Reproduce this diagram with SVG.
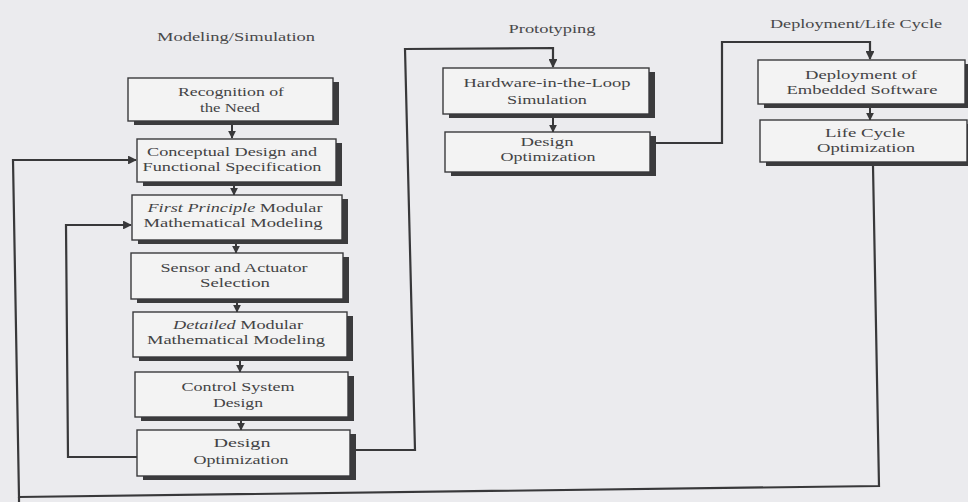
<svg xmlns="http://www.w3.org/2000/svg" width="968" height="502" viewBox="0 0 968 502">
<defs>
<style>
.bg{fill:#ebebee}
.sh{fill:#3b3b3d}
.bx{fill:#f3f3f3;stroke:#3a3a3c;stroke-width:1.4}
.t{font-family:"Liberation Serif","Times New Roman",serif;font-size:12.5px;fill:#434345;text-anchor:middle}
.h{font-family:"Liberation Serif","Times New Roman",serif;font-size:12px;fill:#48484a;text-anchor:middle}
.ln{fill:none;stroke:#38383a;stroke-width:2.2;stroke-linejoin:miter}
.st{fill:none;stroke:#38383a;stroke-width:2}
</style>
<marker id="ah" viewBox="0 0 10 10" refX="9" refY="5" markerWidth="4" markerHeight="4" orient="auto" markerUnits="strokeWidth">
<path d="M0,0 L10,5 L0,10 z" fill="#38383a"/>
</marker>
</defs>
<rect class="bg" x="0" y="0" width="968" height="502"/>

<g id="headings">
<text class="h" x="236" y="41" textLength="158" lengthAdjust="spacingAndGlyphs">Modeling/Simulation</text>
<text class="h" x="552" y="33" textLength="87" lengthAdjust="spacingAndGlyphs">Prototyping</text>
<text class="h" x="856" y="28" textLength="172" lengthAdjust="spacingAndGlyphs">Deployment/Life Cycle</text>
</g>

<g id="connectors">
<line class="st" x1="232" y1="123" x2="232" y2="138" marker-end="url(#ah)"/>
<line class="st" x1="234" y1="185" x2="234" y2="195" marker-end="url(#ah)"/>
<line class="st" x1="236" y1="243" x2="236" y2="253" marker-end="url(#ah)"/>
<line class="st" x1="237" y1="303" x2="237" y2="312" marker-end="url(#ah)"/>
<line class="st" x1="240" y1="360" x2="240" y2="372" marker-end="url(#ah)"/>
<line class="st" x1="241" y1="420" x2="241" y2="430" marker-end="url(#ah)"/>
<line class="st" x1="553" y1="118" x2="553" y2="132" marker-end="url(#ah)"/>
<line class="st" x1="870" y1="108" x2="870" y2="120" marker-end="url(#ah)"/>
<polyline class="ln" points="137,457 68,457 66,225 131,225" marker-end="url(#ah)"/>
<polyline class="ln" points="873,166 879,486 19,497 13,160 136,160" marker-end="url(#ah)"/>
<line class="ln" x1="19" y1="497" x2="19" y2="502"/>
<polyline class="ln" points="352,450 415,450 405,49 553,48 553,67" marker-end="url(#ah)"/>
<polyline class="ln" points="655,143 722,143 722,42 870,42 870,59" marker-end="url(#ah)"/>
</g>

<g id="n1">
<rect class="sh" x="134" y="82" width="205" height="43"/>
<rect class="bx" x="128" y="78" width="205" height="43"/>
<text class="t" x="231" y="96" textLength="106" lengthAdjust="spacingAndGlyphs">Recognition of</text>
<text class="t" x="230" y="112" textLength="60" lengthAdjust="spacingAndGlyphs">the Need</text>
</g>
<g id="n2">
<rect class="sh" x="143" y="143" width="199" height="43"/>
<rect class="bx" x="137" y="139" width="199" height="43"/>
<text class="t" x="232" y="156" textLength="170" lengthAdjust="spacingAndGlyphs">Conceptual Design and</text>
<text class="t" x="232" y="171" textLength="179" lengthAdjust="spacingAndGlyphs">Functional Specification</text>
</g>
<g id="n3">
<rect class="sh" x="138" y="199" width="210" height="45"/>
<rect class="bx" x="132" y="195" width="210" height="45"/>
<text class="t" x="235" y="212" textLength="175" lengthAdjust="spacingAndGlyphs"><tspan font-style="italic">First Principle</tspan> Modular</text>
<text class="t" x="233" y="227" textLength="179" lengthAdjust="spacingAndGlyphs">Mathematical Modeling</text>
</g>
<g id="n4">
<rect class="sh" x="137" y="257" width="212" height="46"/>
<rect class="bx" x="131" y="253" width="212" height="46"/>
<text class="t" x="234" y="272" textLength="147" lengthAdjust="spacingAndGlyphs">Sensor and Actuator</text>
<text class="t" x="235" y="287" textLength="70" lengthAdjust="spacingAndGlyphs">Selection</text>
</g>
<g id="n5">
<rect class="sh" x="139" y="316" width="214" height="45"/>
<rect class="bx" x="133" y="312" width="214" height="45"/>
<text class="t" x="238" y="329" textLength="130" lengthAdjust="spacingAndGlyphs"><tspan font-style="italic">Detailed</tspan> Modular</text>
<text class="t" x="236" y="344" textLength="178" lengthAdjust="spacingAndGlyphs">Mathematical Modeling</text>
</g>
<g id="n6">
<rect class="sh" x="141" y="376" width="213" height="45"/>
<rect class="bx" x="135" y="372" width="213" height="45"/>
<text class="t" x="238" y="391" textLength="113" lengthAdjust="spacingAndGlyphs">Control System</text>
<text class="t" x="238" y="407" textLength="50" lengthAdjust="spacingAndGlyphs">Design</text>
</g>
<g id="n7">
<rect class="sh" x="143" y="434" width="213" height="46"/>
<rect class="bx" x="137" y="430" width="213" height="46"/>
<text class="t" x="242" y="447" textLength="57" lengthAdjust="spacingAndGlyphs">Design</text>
<text class="t" x="241" y="464" textLength="95" lengthAdjust="spacingAndGlyphs">Optimization</text>
</g>
<g id="n8">
<rect class="sh" x="449" y="72" width="206" height="46"/>
<rect class="bx" x="443" y="68" width="206" height="46"/>
<text class="t" x="547" y="87" textLength="167" lengthAdjust="spacingAndGlyphs">Hardware-in-the-Loop</text>
<text class="t" x="547" y="104" textLength="80" lengthAdjust="spacingAndGlyphs">Simulation</text>
</g>
<g id="n9">
<rect class="sh" x="451" y="136" width="205" height="40"/>
<rect class="bx" x="445" y="132" width="205" height="40"/>
<text class="t" x="547" y="146" textLength="53" lengthAdjust="spacingAndGlyphs">Design</text>
<text class="t" x="548" y="161" textLength="95" lengthAdjust="spacingAndGlyphs">Optimization</text>
</g>
<g id="n10">
<rect class="sh" x="764" y="64" width="207" height="44"/>
<rect class="bx" x="758" y="60" width="207" height="44"/>
<text class="t" x="861" y="79" textLength="112" lengthAdjust="spacingAndGlyphs">Deployment of</text>
<text class="t" x="862" y="94" textLength="151" lengthAdjust="spacingAndGlyphs">Embedded Software</text>
</g>
<g id="n11">
<rect class="sh" x="766" y="124" width="207" height="42"/>
<rect class="bx" x="760" y="120" width="207" height="42"/>
<text class="t" x="865" y="137" textLength="80" lengthAdjust="spacingAndGlyphs">Life Cycle</text>
<text class="t" x="866" y="152" textLength="98" lengthAdjust="spacingAndGlyphs">Optimization</text>
</g>
</svg>
